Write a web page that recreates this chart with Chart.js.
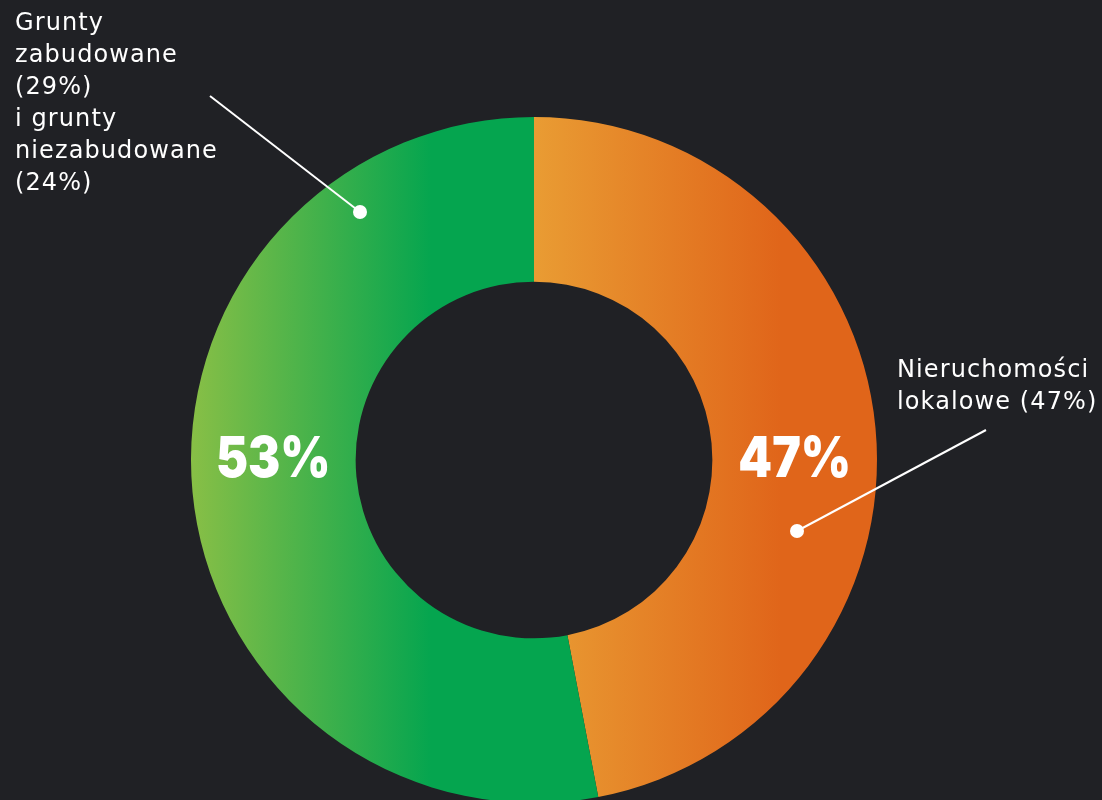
<!DOCTYPE html>
<html>
<head>
<meta charset="utf-8">
<script src="https://cdn.jsdelivr.net/npm/chart.js@4"></script>
<style>
  html, body { margin: 0; padding: 0; background: #202125; overflow: hidden; }
  #wrap { position: absolute; left: 0; top: 0; width: 1102px; height: 820px; }
  .note {
    position: absolute;
    color: #ffffff;
    font-family: "DejaVu Sans", "Open Sans", sans-serif;
    font-size: 24px;
    letter-spacing: 1.1px;
    line-height: 32px;
    white-space: nowrap;
  }
</style>
</head>
<body>
<div id="wrap"><canvas id="myChartLand" width="1102" height="820"></canvas></div>
<div class="note" id="noteLeft" style="left:15px; top:6px;">Grunty<br>zabudowane<br>(29%)<br>i grunty<br>niezabudowane<br>(24%)</div>
<div class="note" id="noteRight" style="left:897px; top:353px;">Nieruchomości<br>lokalowe (47%)</div>
<script>
// === dane
var categories = ["Nieruchomości lokalowe", "Grunty zabudowane i niezabudowane"];
var shares = [47, 53];
var shareLabels = ["47%", "53%"];

// gradienty poziome dla kazdego segmentu
function segmentFill(context) {
  var chart = context.chart;
  var area = chart.chartArea;
  if (!area) return "#e07a22";
  var c = chart.ctx;
  var cx = (area.left + area.right) / 2;
  var R = Math.min(area.width, area.height) / 2;
  var g;
  if (context.dataIndex === 0) {
    g = c.createLinearGradient(cx, 0, cx + 0.72 * R, 0);
    g.addColorStop(0, "#e99c33");
    g.addColorStop(1, "#e0651a");
  } else {
    g = c.createLinearGradient(cx - R, 0, cx - 0.3 * R, 0);
    g.addColorStop(0, "#88bf46");
    g.addColorStop(1, "#05a54f");
  }
  return g;
}

// etykiety procentowe + linie odnosnikow
var overlay = {
  id: "overlay",
  afterDatasetsDraw: function (chart) {
    var c = chart.ctx;
    var arc = chart.getDatasetMeta(0).data[0];
    var cx = arc.x, cy = arc.y;
    var R = arc.outerRadius, r = arc.innerRadius;
    var mid = (R + r) / 2;

    c.save();
    c.fillStyle = "#ffffff";
    c.strokeStyle = "#ffffff";
    c.font = "900 56px Inter, 'DejaVu Sans', sans-serif";
    c.textAlign = "center";
    c.textBaseline = "middle";
    [[shareLabels[1], cx - mid], [shareLabels[0], cx + mid]].forEach(function (t) {
      c.save();
      c.translate(t[1], cy);
      c.scale(0.86, 1);
      c.fillText(t[0], 0, 0);
      c.restore();
    });

    // odnosniki
    var lines = [
      [cx - 324, cy - 364, cx - 174, cy - 248],
      [cx + 452, cy - 30, cx + 263, cy + 71],
    ];
    c.lineWidth = 2;
    lines.forEach(function (l) {
      c.beginPath();
      c.moveTo(l[0], l[1]);
      c.lineTo(l[2], l[3]);
      c.stroke();
      c.beginPath();
      c.arc(l[2], l[3], 7, 0, Math.PI * 2);
      c.fill();
    });
    c.restore();
  },
};

var chLand = document.getElementById("myChartLand").getContext("2d");

var myChartLand = new Chart(chLand, {
  type: "doughnut",
  plugins: [overlay],
  options: {
    responsive: false,
    animation: false,
    events: [],
    cutout: "52%",
    layout: {
      padding: { left: 191, right: 225, top: 117, bottom: 17 },
    },
    plugins: {
      legend: { display: false },
      tooltip: { enabled: false },
    },
  },
  data: {
    labels: categories,
    datasets: [
      {
        data: shares,
        backgroundColor: segmentFill,
        borderWidth: 0,
      },
    ],
  },
});
</script>
</body>
</html>
